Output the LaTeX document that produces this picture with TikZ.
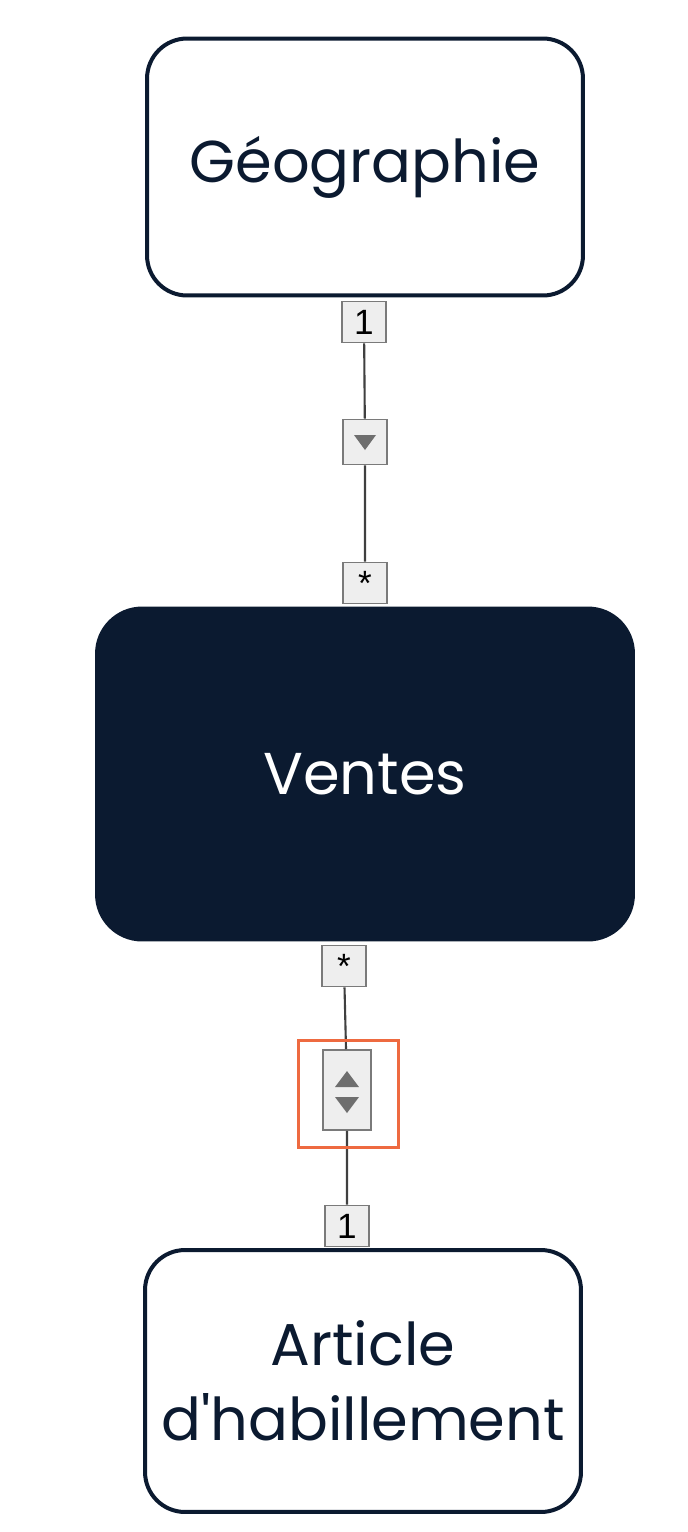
\documentclass[tikz,border=0pt]{standalone}
\usepackage{fontspec}
\newfontfamily\boxfont{Poppins}
\newfontfamily\tagfont{Liberation Sans}
\usetikzlibrary{positioning}
\definecolor{navy}{HTML}{0B1A30}
\definecolor{tagfill}{HTML}{EEEEEE}
\definecolor{taggray}{HTML}{7A7A7A}
\definecolor{linegray}{HTML}{404040}
\definecolor{pickorange}{HTML}{EE6A40}
\definecolor{trigray}{HTML}{6E6E6E}

\tikzset{
  entity/.style={draw=navy,line width=0.08cm,rounded corners=0.8cm,fill=white,text=navy,
    minimum width=8.72cm,minimum height=5.14cm,align=center,inner sep=0pt,
    font=\boxfont\fontsize{33.6}{43}\selectfont},
  fact/.style={entity,fill=navy,text=white,minimum width=10.72cm,minimum height=6.62cm,rounded corners=0.9cm},
  tag/.style={draw=taggray,fill=tagfill,line width=0.9pt,minimum width=0.88cm,minimum height=0.82cm,
    inner sep=0pt,font=\tagfont\fontsize{20}{20}\selectfont},
  dirtag/.style={tag,minimum height=0.9cm},
  link/.style={draw=linegray,line width=1.2pt},
  tri/.style={fill=trigray,draw=none}
}
\newcommand{\many}{\raisebox{-0.3em}{*}}

\begin{document}
\begin{tikzpicture}[x=0.02cm,y=-0.02cm]
\useasboundingbox[fill=white] (0,0) rectangle (688,1532);
\node[entity] (geo) at (365,167) {G\'eographie};
\node[fact] (ventes) at (365,774) {Ventes};
\node[entity,minimum height=5.24cm] (article) at (363,1381) {Article\\d'habillement};

\node[tag] (g1) at (364,322) {1};
\node[dirtag] (garr) at (365,442) {};
\node[tag] (gstar) at (365,583) {\many};
\draw[link] (g1) -- (garr) -- (gstar);
\fill[tri] (garr.center) ++(-11,-7) -- ++(22,0) -- ++(-11,15) -- cycle;

\node[tag] (vstar) at (344,966) {\many};
\node[dirtag,minimum height=1.6cm,minimum width=0.96cm] (varr) at (347,1090) {};
\node[tag] (a1) at (347,1226) {1};
\draw[link] (vstar) -- (varr) -- (a1);
\fill[tri] (varr.center) ++(-12,-3) -- ++(24,0) -- ++(-12,-16) -- cycle;
\fill[tri] (varr.center) ++(-12,7) -- ++(24,0) -- ++(-12,16) -- cycle;
\draw[pickorange,line width=0.06cm] (298,1040) rectangle (398,1147);
\end{tikzpicture}
\end{document}
